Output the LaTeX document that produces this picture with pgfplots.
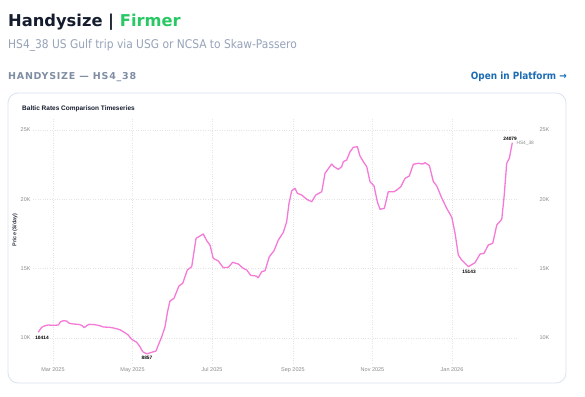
\documentclass[border=0pt]{standalone}
\usepackage{pgfplots}
\pgfplotsset{compat=1.18}
\usepackage{fontspec}
\setmainfont{Liberation Sans}
\newfontfamily\hdr{DejaVu Sans}
\newfontfamily\hdrc[FakeStretch=0.89]{DejaVu Sans}
\definecolor{hdark}{RGB}{20,28,45}
\definecolor{firm}{RGB}{40,200,100}
\definecolor{subg}{RGB}{150,163,185}
\definecolor{capg}{RGB}{128,142,164}
\definecolor{linkb}{RGB}{28,108,180}
\definecolor{cardb}{RGB}{218,228,238}
\definecolor{linec}{RGB}{245,122,215}
\definecolor{tickg}{RGB}{140,140,140}
\definecolor{gridg}{RGB}{228,228,228}
\begin{document}
\begin{tikzpicture}
\path[use as bounding box] (0bp,0bp) rectangle (585bp,-397bp);
\fill[white] (0bp,0bp) rectangle (585bp,-397bp);
\node[anchor=base west, inner sep=0] at (8bp,-26bp) {\hdr\bfseries\fontsize{16.3bp}{20bp}\selectfont\color{hdark}Handysize | \color{firm}Firmer};
\node[anchor=base west, inner sep=0] at (8bp,-48.5bp) {\hdrc\fontsize{12bp}{14bp}\selectfont\color{subg}HS4\_38 US Gulf trip via USG or NCSA to Skaw-Passero};
\node[anchor=base west, inner sep=0] at (8bp,-79bp) {\hdr\bfseries\fontsize{9.5bp}{11bp}\selectfont\addfontfeatures{LetterSpace=8}\color{capg}HANDYSIZE — HS4\_38};
\node[anchor=base east, inner sep=0] at (567bp,-79bp) {\hdrc\bfseries\fontsize{10bp}{12bp}\selectfont\color{linkb}Open in Platform →};
\draw[cardb, rounded corners=10bp, line width=0.8bp] (8bp,-93bp) rectangle (566bp,-383bp);
\node[anchor=base west, inner sep=0] at (22bp,-110bp) {\bfseries\fontsize{6.5bp}{8bp}\selectfont\color{hdark}Baltic Rates Comparison Timeseries};
\node[rotate=90, inner sep=0] at (15bp,-230bp) {\bfseries\fontsize{5.5bp}{7bp}\selectfont\color{hdark!85}Price (\$/day)};
\begin{axis}[
  at={(33bp,-363bp)}, anchor=south west, scale only axis,
  width=484bp, height=246bp,
  xmin=43.7, xmax=414.8, ymin=8198, ymax=25934,
  scaled ticks=false,
  axis line style={draw=none},
  major tick length=0pt,
  xtick={59,120,181,243,304,365},
  xticklabels={Mar 2025,May 2025,Jul 2025,Sep 2025,Nov 2025,Jan 2026},
  ytick={10000,15000,20000,25000},
  yticklabels={10K,15K,20K,25K},
  ticklabel style={font=\fontsize{5.5bp}{6bp}\selectfont, text=tickg},
  xticklabel style={yshift=-1bp},
  yticklabel style={xshift=1bp},
  grid=major,
  grid style={gridg, dotted, line width=0.6bp},
  clip=false,
]
\addplot[color=linec, line width=1.3bp, line join=round] coordinates {
(47.7,10414)(50.3,10771)(52.9,10887)(55.4,10937)(59.2,10916)(63.1,10937)(64.9,11175)(66.9,11247)(69.5,11226)(71.5,11060)
(74.6,11009)(78.4,10988)(81.0,10916)(83.0,10743)(84.8,10887)(86.8,10988)(91.2,10959)(95.0,10887)(97.6,10793)(102.7,10771)
(106.5,10699)(110.4,10598)(114.2,10382)(116.7,10216)(119.4,9906)(123.2,9690)(125.7,9373)(127.8,9012)(131.0,8857)(134.7,8969)
(138.0,9063)(139.8,9495)(142.4,10094)(144.9,10793)(146.8,11875)(148.7,12668)(151.8,12862)(155.6,13749)(158.5,13944)(162.0,14903)
(165.4,15141)(168.7,17188)(171.7,17354)(174.3,17498)(176.9,17015)(179.4,16705)(181.9,15746)(185.8,15552)(189.6,15069)(193.4,15097)
(196.8,15458)(201.1,15335)(204.9,15025)(207.6,14903)(210.6,14521)(214.7,14470)(216.4,14348)(219.1,14780)(221.6,14852)(224.9,15862)
(228.5,16294)(231.8,17066)(235.6,17607)(238.2,18385)(240.0,19712)(242.1,20620)(244.6,20793)(246.4,20433)(249.7,20310)(253.6,20000)
(257.4,19827)(260.5,20310)(265.1,20548)(267.6,21875)(272.7,22545)(274.5,22351)(277.8,22163)(280.4,22351)(281.6,22711)(284.2,22834)
(286.8,23432)(289.3,23750)(292.4,23793)(294.4,23122)(297.0,22711)(299.6,22351)(302.1,21269)(305.2,20959)(307.7,19827)(309.8,19279)
(313.1,19351)(316.1,20548)(320.5,20548)(322.6,20671)(325.7,20909)(329.0,21514)(332.2,21680)(335.3,22524)(339.1,22596)(342.5,22545)
(344.3,22639)(347.6,22437)(350.7,21269)(353.3,20959)(357.1,20094)(360.9,19351)(364.8,18703)(367.3,17549)(369.8,15984)(372.4,15624)
(377.5,15143)(382.6,15429)(386.5,16056)(389.5,16107)(392.8,16705)(396.2,16828)(399.3,18147)(403.1,18558)(404.9,20188)(406.9,22596)
(408.9,22956)(411.2,24079)
};
\node[font=\bfseries\fontsize{4.8bp}{5bp}\selectfont, text=black, inner sep=0] at (axis cs:50.6,10020) {10414};
\node[font=\bfseries\fontsize{4.8bp}{5bp}\selectfont, text=black, inner sep=0] at (axis cs:131.1,8558) {8857};
\node[font=\bfseries\fontsize{4.8bp}{5bp}\selectfont, text=black, inner sep=0] at (axis cs:378,14780) {15143};
\node[font=\bfseries\fontsize{4.8bp}{5bp}\selectfont, text=black, inner sep=0] at (axis cs:409.5,24348) {24079};
\node[font=\fontsize{4.8bp}{5bp}\selectfont, text=tickg, anchor=west, inner sep=0] at (axis cs:414.3,24060) {HS4\_38};
\end{axis}
\begin{axis}[
  at={(33bp,-363bp)}, anchor=south west, scale only axis,
  width=484bp, height=246bp,
  xmin=43.7, xmax=414.8, ymin=8198, ymax=25934,
  scaled ticks=false,
  axis line style={draw=none},
  major tick length=0pt,
  xtick=\empty,
  ytick={10000,15000,20000,25000},
  yticklabels={10K,15K,20K,25K},
  yticklabel pos=right,
  ticklabel style={font=\fontsize{5.5bp}{6bp}\selectfont, text=tickg},
  yticklabel style={anchor=west, xshift=19bp},
]
\end{axis}
\end{tikzpicture}
\end{document}
